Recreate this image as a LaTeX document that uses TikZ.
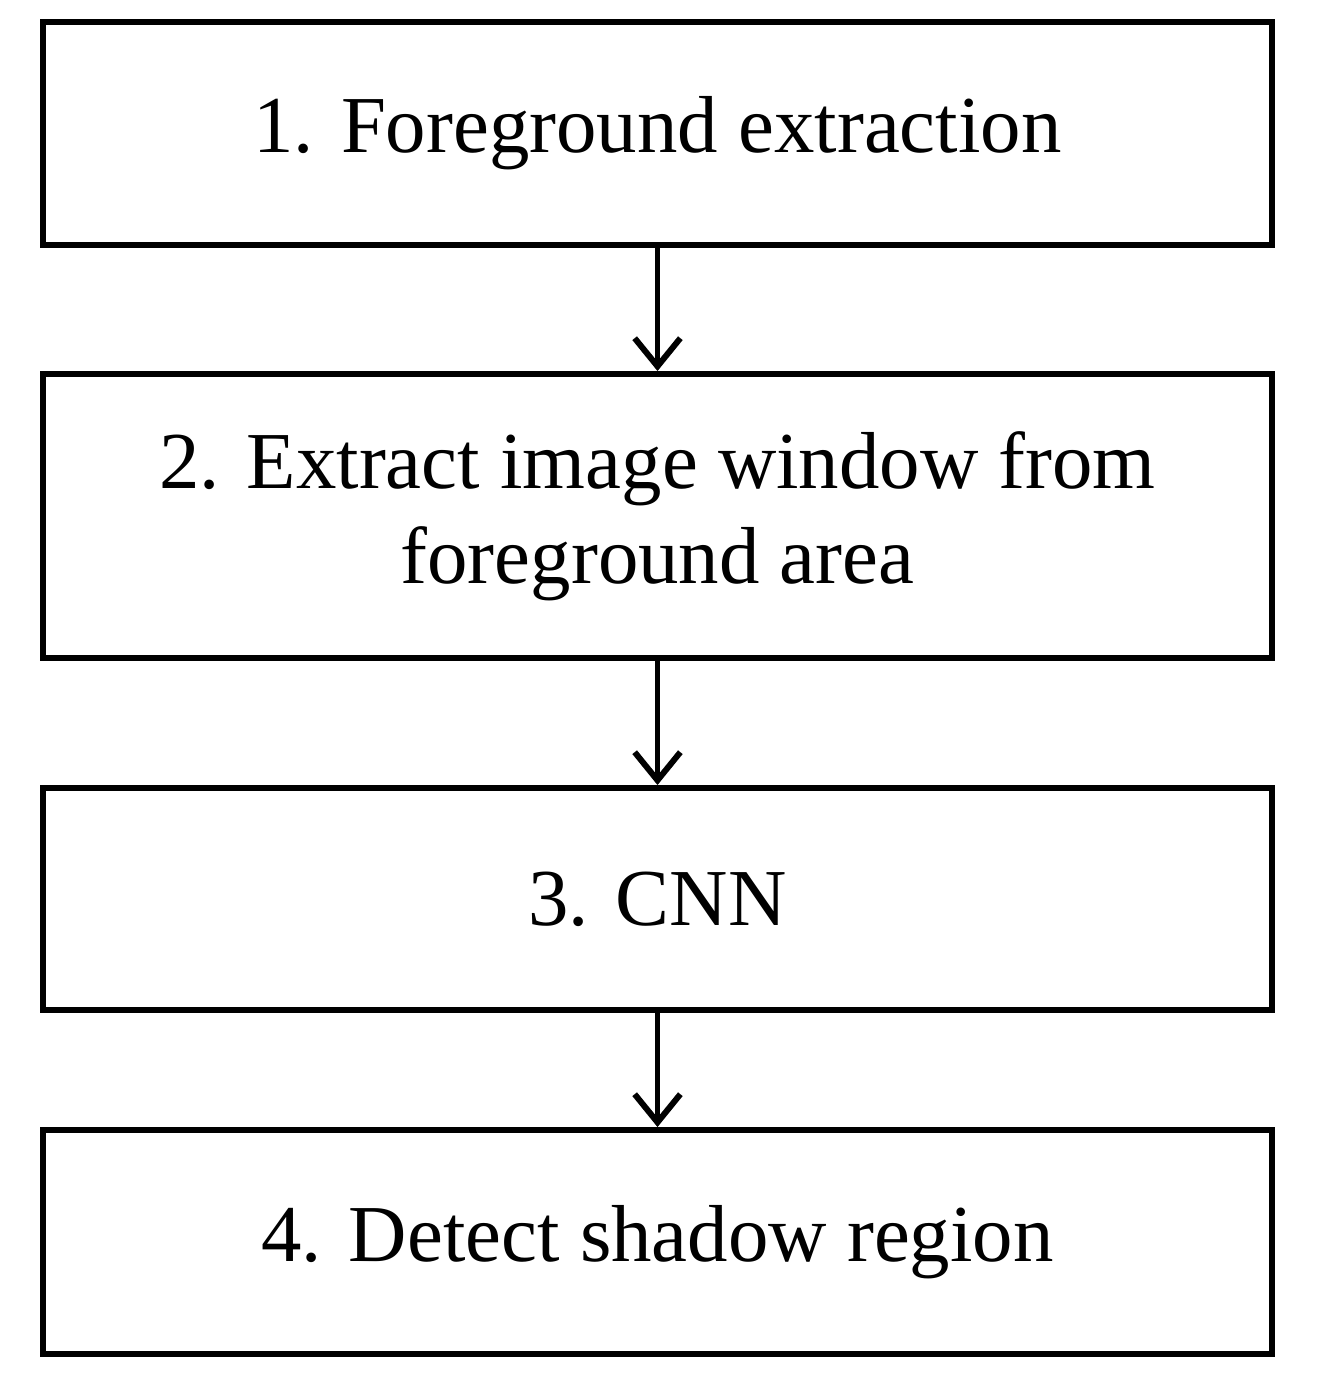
\documentclass[tikz,border=0pt]{standalone}
\usepackage{fontspec}
\setmainfont{Liberation Serif}
\usetikzlibrary{arrows.meta}
\tikzset{
  stage/.style={draw,line width=3.4pt,minimum width=24.58cm,align=center,
    font=\fontsize{46}{54}\selectfont,inner sep=0pt},
  flow/.style={line width=3.4pt,-{Straight Barb[length=16pt,width=26pt,line width=3.4pt]}}
}
\begin{document}
\begin{tikzpicture}[x=0.02cm,y=-0.02cm]
  \useasboundingbox (0,0) rectangle (1316,1376);
  \node[stage,minimum height=4.46cm] (fg) at (657.5,133.5) {1. Foreground extraction};
  \node[stage,minimum height=5.68cm] (win) at (657.5,516) {2. Extract image window from\\foreground area};
  \node[stage,minimum height=4.44cm] (cnn) at (657.5,899) {3. CNN};
  \node[stage,minimum height=4.48cm] (det) at (657.5,1242) {4. Detect shadow region};
  \draw[flow] (fg) -- (win);
  \draw[flow] (win) -- (cnn);
  \draw[flow] (cnn) -- (det);
\end{tikzpicture}
\end{document}
